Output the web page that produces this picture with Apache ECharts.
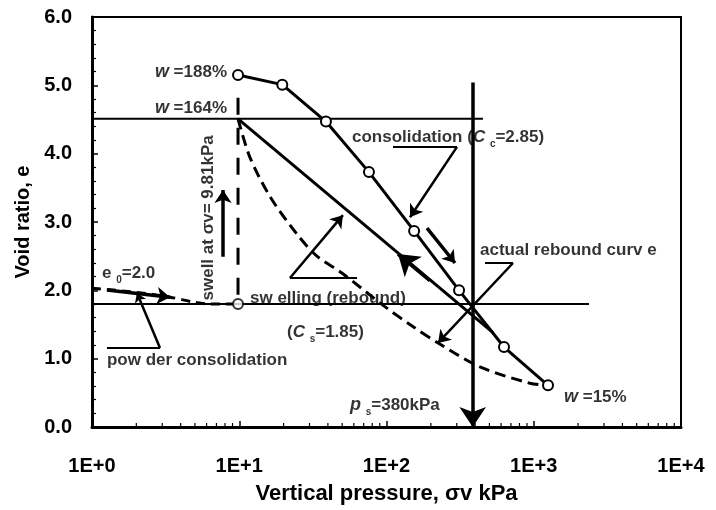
<!DOCTYPE html>
<html>
<head>
<meta charset="utf-8">
<script src="https://cdn.jsdelivr.net/npm/echarts@6/dist/echarts.min.js"></script>
<style>
  html, body { margin: 0; padding: 0; background: #fff; }
  #chart { width: 716px; height: 510px; }
</style>
</head>
<body>
<div id="chart"></div>
<script>
// consolidation test points [pressure kPa, void ratio]
var consPts = [[9.81, 5.15], [19.6, 5.01], [38.8, 4.47], [76, 3.73], [154, 2.87], [311, 2.0], [628, 1.17], [1250, 0.61]];
// actual rebound curve (dashed)
var reboundPts = [[9.81, 4.51], [11.8, 3.95], [16.2, 3.37], [24.7, 2.82], [33.7, 2.5], [50, 2.25], [95, 1.78], [151, 1.47], [224, 1.23], [431, 0.88], [943, 0.64], [1250, 0.61]];
// powder consolidation (dashed)
var powderPts = [[1, 2.03], [2, 1.97], [3.39, 1.9], [4.85, 1.83], [6.3, 1.8], [9.81, 1.8]];
var swellBottom = [[9.81, 1.8]];
// swelling (rebound) straight line
var swellLine = [[9.81, 4.51], [529, 1.38]];
// reference lines
var hLineTop = [[1, 4.51], [452, 4.51]];
var hLineLow = [[1, 1.8], [2371, 1.8]];
var vLineSwell = [[9.81, 4.82], [9.81, 1.8]];

// direction arrows: [from, to, head size]
var arrows = [
  [[385, 5.04], [385, 0], 20],
  [[197, 2.14], [119.7, 2.53], 20],
  [[188.4, 2.91], [291.9, 2.40], 12],
  [[7.76, 2.49], [7.76, 3.47], 13],
  [[1.264, 2.005], [3.39, 1.9], 13]
];
// callout pointers and their underlines
var calloutArrows = [
  [[301, 4.10], [144.4, 3.07], 12],
  [[723, 2.40], [223.7, 1.23], 12],
  [[22.1, 2.18], [50.6, 3.10], 12],
  [[2.896, 1.156], [2.02, 1.96], 9]
];
var underlines = [
  [[110.7, 4.10], [301, 4.10]],
  [[466.6, 2.40], [723, 2.40]],
  [[22.1, 2.18], [63.1, 2.18]],
  [[1.264, 1.156], [2.896, 1.156]]
];

// text notes: [x, y, text, anchor side, rotate]
var notes = [
  [8.26, 5.195, '{i|w} =188%', 'left', 0],
  [8.26, 4.67, '{i|w} =164%', 'left', 0],
  [58.3, 4.244, 'consolidation ({ic|C} {sub|c}=2.85)', 'right', 0],
  [431.5, 2.59, 'actual rebound curv e', 'right', 0],
  [11.83, 1.888, 'sw elling (rebound)', 'right', 0],
  [21.1, 1.39, '({ic|C} {sub|s}=1.85)', 'right', 0],
  [1.264, 0.98, 'pow der consolidation', 'right', 0],
  [1.169, 2.25, 'e {sub|0}=2.0', 'right', 0],
  [1605, 0.44, '{i|w} =15%', 'right', 0],
  [56.5, 0.322, '{i|p} {sub|s}=380kPa', 'right', 0],
  [6.13, 3.06, 'swell at σv= 9.81kPa', 'inside', 90]
];

var xTicks = [1, 10, 100, 1000, 10000];
var yTicks = [0, 1, 2, 3, 4, 5, 6];

var minorX = [];
for (var d = 0; d < xTicks.length - 1; d++) {
  for (var k = 2; k < 10; k++) minorX.push([xTicks[d] * k, 0]);
}

var FONT = 'Liberation Sans, Arial, sans-serif';
var rich = {
  i: { fontStyle: 'italic', fontWeight: 'bold', fontSize: 18, fontFamily: FONT, color: '#000' },
  ic: { fontStyle: 'italic', fontWeight: 'bold', fontSize: 17, fontFamily: FONT, color: '#000' },
  sub: { fontSize: 10, fontWeight: 'bold', fontFamily: FONT, color: '#000', padding: [14, 0, 0, 0] }
};

function segSeries(name, pts, width, dash) {
  return {
    name: name, type: 'line', data: pts, symbol: 'none', silent: true,
    lineStyle: { color: '#000', width: width, type: dash || 'solid' }, z: 3
  };
}

var series = [
  segSeries('hTop', hLineTop, 2),
  segSeries('hLow', hLineLow, 2),
  segSeries('vSwell', vLineSwell, 3, [17, 13]),
  segSeries('swelling', swellLine, 3),
  {
    name: 'rebound', type: 'line', data: reboundPts, smooth: 0.3, symbol: 'none',
    lineStyle: { color: '#000', width: 3, type: [11, 6] }, z: 3
  },
  {
    name: 'powder', type: 'line', data: powderPts, smooth: 0.3, symbol: 'none',
    lineStyle: { color: '#000', width: 3, type: [9, 6] }, z: 3
  },
  {
    name: 'consolidation', type: 'line', data: consPts, symbol: 'circle', symbolSize: 10,
    lineStyle: { color: '#000', width: 3 },
    itemStyle: { color: '#fff', borderColor: '#000', borderWidth: 2 }, z: 5
  },
  {
    name: 'swellPt', type: 'scatter', data: swellBottom, symbol: 'circle', symbolSize: 10,
    itemStyle: { color: '#fff', borderColor: '#000', borderWidth: 2 }, z: 5
  },
  {
    name: 'underlines', type: 'lines', coordinateSystem: 'cartesian2d', z: 4,
    lineStyle: { color: '#000', width: 2, opacity: 1 },
    data: underlines.map(function (u) { return { coords: u }; })
  }
];

arrows.concat(calloutArrows).forEach(function (a, i) {
  series.push({
    name: 'arrow' + i, type: 'lines', coordinateSystem: 'cartesian2d', z: 4,
    symbol: ['none', 'arrow'], symbolSize: a[2],
    lineStyle: { color: '#000', width: i < arrows.length ? 3.5 : 2.5, opacity: 1 },
    data: [{ coords: [a[0], a[1]] }]
  });
});

series.push({
  name: 'notes', type: 'scatter', symbolSize: 0, z: 6, silent: true,
  data: notes.map(function (n) {
    return {
      value: [n[0], n[1]],
      label: {
        show: true, formatter: n[2], position: n[3], distance: 0, rotate: n[4],
        align: n[4] ? 'center' : null, verticalAlign: 'middle',
        fontSize: 17, fontWeight: 'bold', fontFamily: FONT, color: '#000', rich: rich
      }
    };
  })
});

// log minor ticks (2..9 per decade), drawn inside the plot
series.push({
  name: 'minorTicks', type: 'custom', data: minorX, silent: true, clip: false, z: 7,
  renderItem: function (params, api) {
    var p = api.coord([api.value(0), 0]);
    return { type: 'line', shape: { x1: p[0], y1: p[1], x2: p[0], y2: p[1] - 4 },
      style: { stroke: '#000', lineWidth: 1.2 } };
  }
});

var chart = echarts.init(document.getElementById('chart'), null, { renderer: 'canvas' });
chart.setOption({
  animation: false,
  backgroundColor: '#fff',
  grid: { left: 92, top: 17, right: 35, bottom: 83, show: true, borderColor: '#000', borderWidth: 2, outerBoundsMode: 'none' },
  xAxis: {
    type: 'log', logBase: 10, min: xTicks[0], max: xTicks[xTicks.length - 1],
    name: 'Vertical pressure, σv kPa', nameLocation: 'middle', nameGap: 56,
    nameTextStyle: { fontSize: 22, fontWeight: 'bold', fontFamily: FONT, color: '#000' },
    axisLine: { lineStyle: { color: '#000', width: 3 } },
    axisTick: { inside: true, length: 6, lineStyle: { color: '#000', width: 1.5 } },
    axisLabel: {
      margin: 29, fontSize: 20, fontWeight: 'bold', fontFamily: FONT, color: '#000',
      formatter: function (v) { return '1E+' + Math.round(Math.log10(v)); }
    },
    splitLine: { show: false }
  },
  yAxis: {
    type: 'value', min: yTicks[0], max: yTicks[yTicks.length - 1], interval: 1,
    name: 'Void ratio, e', nameLocation: 'middle', nameGap: 55,
    nameTextStyle: { fontSize: 20, fontWeight: 'bold', fontFamily: FONT, color: '#000' },
    axisLine: { show: true, lineStyle: { color: '#000', width: 3 } },
    axisTick: { show: true, inside: true, length: 6, lineStyle: { color: '#000', width: 1.5 } },
    minorTick: { show: true, splitNumber: 5, length: 4, lineStyle: { color: '#000', width: 1.2 } },
    axisLabel: {
      margin: 20, fontSize: 20, fontWeight: 'bold', fontFamily: FONT, color: '#000',
      formatter: function (v) { return v.toFixed(1); }
    },
    splitLine: { show: false }
  },
  series: series
});
</script>
</body>
</html>
